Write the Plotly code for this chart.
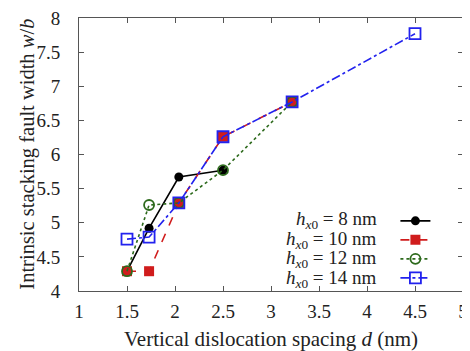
import plotly.graph_objects as go

x8 = [1.5, 1.73, 2.04, 2.5]
y8 = [4.29, 4.92, 5.67, 5.77]
x10 = [1.5, 1.73, 2.04, 2.5, 3.22]
y10 = [4.29, 4.29, 5.29, 6.26, 6.77]
x12 = [1.5, 1.73, 2.04, 2.5, 3.22]
y12 = [4.29, 5.26, 5.29, 5.77, 6.77]
x14 = [1.5, 1.73, 2.04, 2.5, 3.22, 4.5]
y14 = [4.76, 4.79, 5.29, 6.26, 6.77, 7.77]
labels = ["8", "10", "12", "14"]
xticks = [1, 1.5, 2, 2.5, 3, 3.5, 4, 4.5, 5]
yticks = [4, 4.5, 5, 5.5, 6, 6.5, 7, 7.5, 8]

FONT = "Liberation Serif"
TXT = "#222222"
fig = go.Figure()
series = [
    (x8, y8, "#000000", "solid", dict(symbol="circle", size=9, color="#000000")),
    (x10, y10, "#d01c1c", "dash", dict(symbol="square", size=10, color="#d01c1c")),
    (x12, y12, "#2d6a1c", "dot", dict(symbol="circle-open", size=10, color="#2d6a1c", line=dict(width=1.8))),
    (x14, y14, "#2222ee", "dashdot", dict(symbol="square-open", size=11, color="#2222ee", line=dict(width=1.8))),
]
for (xs, ys, c, d, m) in series:
    fig.add_trace(go.Scatter(x=xs, y=ys, mode="lines+markers", name="",
                             line=dict(color=c, dash=d, width=1.6), marker=m))

for i, lab in enumerate(labels):
    fig.add_annotation(xref="paper", yref="paper", x=0.781, y=0.26 - i * 0.072,
                       xanchor="right", yanchor="middle", showarrow=False,
                       text=f"<i>h</i><sub><i>x</i>0</sub> = {lab} nm",
                       font=dict(family=FONT, size=19, color=TXT))

fig.add_annotation(xref="paper", yref="paper", x=-0.135, y=0.5, textangle=-90,
                   xanchor="center", yanchor="middle", showarrow=False,
                   text="Intrinsic stacking fault width <i>w</i>/<i>b</i>",
                   font=dict(family=FONT, size=20.5, color=TXT))

axis_common = dict(showgrid=False, zeroline=False, showline=True, linecolor="#555",
                   linewidth=1, mirror="ticks", ticks="inside", ticklen=5,
                   tickcolor="#555", automargin=False, ticklabeloverflow="allow",
                   tickfont=dict(family=FONT, size=19, color=TXT))
fig.update_xaxes(range=[1, 5], tickvals=xticks, ticktext=[f"{v:g}" for v in xticks],
                 ticklabelstandoff=3,
                 title=dict(text="Vertical dislocation spacing <i>d</i> (nm)",
                            font=dict(family=FONT, size=21, color=TXT), standoff=13),
                 **axis_common)
fig.update_yaxes(range=[4, 8], tickvals=yticks, ticktext=[f"{v:g}" for v in yticks],
                 ticklabelstandoff=14, **axis_common)
# page body has an 8px default margin, so the figure is sized to fit the window
fig.update_layout(
    width=462, height=343, margin=dict(l=71, r=7, t=10, b=60),
    paper_bgcolor="white", plot_bgcolor="white",
    showlegend=True,
    legend=dict(x=0.824, y=0.31, xanchor="left", yanchor="top", bgcolor="rgba(0,0,0,0)",
                font=dict(family=FONT, size=12), itemwidth=30, tracegroupgap=0),
)
fig.write_html("out.html")
